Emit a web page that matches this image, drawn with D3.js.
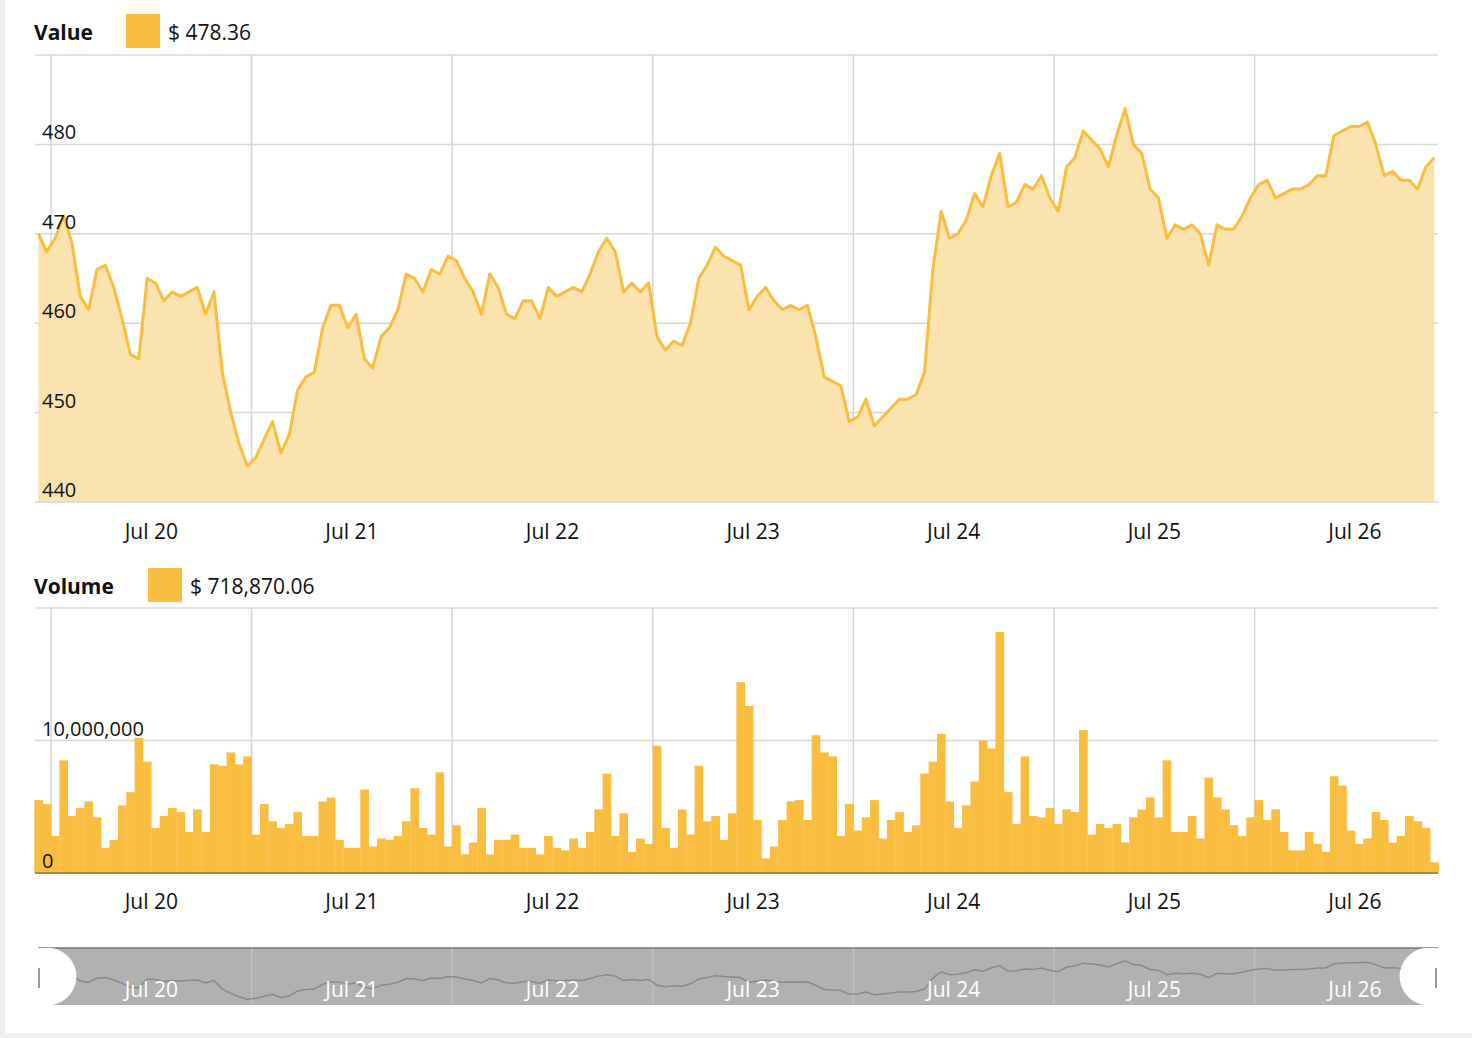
<!DOCTYPE html>
<html>
<head>
<meta charset="utf-8">
<script src="https://cdn.jsdelivr.net/npm/d3@7"></script>
<style>
  body { margin: 0; background: #efefef; font-family: "Open Sans", sans-serif; }
  #panel { position: absolute; left: 5px; top: 0; width: 1467px; height: 1033px; background: #fff; }
  svg { position: absolute; left: 0; top: 0; }
</style>
</head>
<body>
<div id="panel"></div>
<svg id="chart" width="1472" height="1038"></svg>
<script>
// hourly samples, first one at Jul 19 22:30
const startTime = new Date(2016, 6, 19, 22, 30);
const dayTicks = ["Jul 20", "Jul 21", "Jul 22", "Jul 23", "Jul 24", "Jul 25", "Jul 26"];
const valueTicks = [440, 450, 460, 470, 480];
const volumeTicks = [0, 10000000];

const prices = [
  470, 468, 469.5, 472, 469, 463, 461.5, 466, 466.5, 464, 460.5, 456.5, 456, 465, 464.5, 462.5,
  463.5, 463, 463.5, 464, 461, 463.5, 454.5, 450, 446.5, 444, 445, 447, 449, 445.5, 447.5, 452.5,
  454, 454.5, 459.5, 462, 462, 459.5, 461, 456, 455, 458.5, 459.5, 461.5, 465.5, 465, 463.5, 466,
  465.5, 467.5, 467, 465, 463.5, 461, 465.5, 464, 461, 460.5, 462.5, 462.5, 460.5, 464, 463, 463.5,
  464, 463.5, 465.5, 468, 469.5, 468, 463.5, 464.5, 463.5, 464.5, 458.5, 457, 458, 457.5, 460, 465,
  466.5, 468.5, 467.5, 467, 466.5, 461.5, 463, 464, 462.5, 461.5, 462, 461.5, 462, 458.5, 454, 453.5,
  453, 449, 449.5, 451.5, 448.5, 449.5, 450.5, 451.5, 451.5, 452, 454.5, 466, 472.5, 469.5, 470, 471.5,
  474.5, 473, 476.5, 479, 473, 473.5, 475.5, 475, 476.5, 474, 472.5, 477.5, 478.5, 481.5, 480.5, 479.5,
  477.5, 481, 484, 480, 479, 475, 474, 469.5, 471, 470.5, 471, 470, 466.5, 471, 470.5, 470.5,
  472, 474, 475.5, 476, 474, 474.5, 475, 475, 475.5, 476.5, 476.5, 481, 481.5, 482, 482, 482.5,
  480, 476.5, 477, 476, 476, 475, 477.5, 478.5
];

// volume in millions of dollars per hour
const volumesM = [
  5.5, 5.2, 2.8, 8.5, 4.3, 4.9, 5.4, 4.2, 1.9, 2.5, 5.1, 6.1, 10.2, 8.4, 3.4, 4.3,
  4.9, 4.6, 3.1, 4.8, 3.1, 8.2, 8.1, 9.1, 8.2, 8.8, 2.9, 5.2, 3.9, 3.4, 3.7, 4.6,
  2.8, 2.8, 5.4, 5.7, 2.5, 1.9, 1.9, 6.3, 2.0, 2.6, 2.5, 2.8, 3.9, 6.4, 3.4, 2.9,
  7.6, 2.0, 3.6, 1.4, 2.3, 4.9, 1.4, 2.5, 2.5,
  2.9, 1.9, 1.9, 1.4, 2.8, 1.9, 1.7, 2.6, 1.9, 3.1, 4.8, 7.5, 2.8, 4.5, 1.6, 2.6,
  2.2, 9.6, 3.4, 1.9, 4.8, 2.9, 8.1, 3.9, 4.3, 2.5, 4.5, 14.4, 12.6, 4.0, 1.1, 2.0,
  4.0, 5.4, 5.5, 4.0, 10.4, 9.1, 8.8, 2.8, 5.2, 3.2, 4.2, 5.5, 2.6, 4.0, 4.6, 3.1,
  3.6, 7.5, 8.4, 10.5, 5.4, 3.4, 5.1, 6.9, 10.0,
  9.4, 18.2, 6.1, 3.7, 8.8, 4.3, 4.2, 4.9, 3.7, 4.8, 4.6, 10.8, 2.9, 3.7, 3.4, 3.7,
  2.3, 4.2, 4.8, 5.7, 4.2, 8.5, 3.1, 3.1, 4.3, 2.6, 7.2, 5.7, 4.8, 3.6, 2.8, 4.2,
  5.5, 4.0, 4.8, 3.1, 1.7, 1.7, 3.1, 2.2, 1.6, 7.3, 6.6, 3.2, 2.2, 2.6, 4.6, 4.0,
  2.3, 2.8, 4.3, 3.9, 3.4, 0.8
];

const HOUR = 3600 * 1000;
const times = prices.map((_, i) => new Date(+startTime + i * HOUR));
const volumes = volumesM.map(v => v * 1e6);

const svg = d3.select("#chart");
const gold = "#f9bd3f";
const left = 35, right = 1438;

const x = d3.scaleTime()
  .domain([new Date(2016, 6, 20), new Date(2016, 6, 27)])
  .range([51, 51 + 7 * 200.6]);
const dayStarts = d3.range(7).map(d => new Date(2016, 6, 20 + d));
const dayMid = d => new Date(+d + 12 * HOUR);
const step = x(times[1]) - x(times[0]);

const yVal = d3.scaleLinear().domain([440, 490]).range([502, 55]);
const yVol = d3.scaleLinear().domain([0, 20e6]).range([873, 608]);

function grid(g, yScale, ticks, top, bottom) {
  g.selectAll(".hg").data(ticks).join("line")
    .attr("x1", left).attr("x2", right)
    .attr("y1", d => yScale(d)).attr("y2", d => yScale(d))
    .attr("stroke", "#d8d8d8").attr("stroke-width", 1.5);
  g.append("line").attr("x1", left).attr("x2", right).attr("y1", top).attr("y2", top)
    .attr("stroke", "#d8d8d8").attr("stroke-width", 1.5);
  g.selectAll(".vg").data(dayStarts).join("line")
    .attr("x1", d => x(d)).attr("x2", d => x(d))
    .attr("y1", top).attr("y2", bottom)
    .attr("stroke", "#d4d4d4").attr("stroke-width", 1.5);
}

function legend(label, sx, value, y) {
  svg.append("text").attr("x", 34).attr("y", y + 8).attr("font-size", 21)
    .attr("font-weight", "bold").attr("fill", "#111").text(label);
  svg.append("rect").attr("x", sx).attr("y", y - 18).attr("width", 34).attr("height", 34).attr("fill", gold);
  svg.append("text").attr("x", sx + 42).attr("y", y + 8).attr("font-size", 21)
    .attr("fill", "#111").text(value);
}

function dayLabels(y, color) {
  svg.append("g").selectAll("text").data(dayStarts).join("text")
    .attr("x", d => x(dayMid(d))).attr("y", y)
    .attr("text-anchor", "middle").attr("font-size", 21).attr("fill", color)
    .text((d, i) => dayTicks[i]);
}

// ---- Value panel ----
legend("Value", 126, "$ 478.36", 32);
const gv = svg.append("g");
grid(gv, yVal, valueTicks.slice(1), 55, 502);

gv.append("path").datum(prices)
  .attr("fill", "#fbe3b0")
  .attr("d", d3.area().x((d, i) => x(times[i])).y0(yVal(440)).y1(d => yVal(d)));
gv.append("path").datum(prices)
  .attr("fill", "none").attr("stroke", gold).attr("stroke-width", 3).attr("stroke-linejoin", "round")
  .attr("d", d3.line().x((d, i) => x(times[i])).y(d => yVal(d)));
gv.append("line").attr("x1", left).attr("x2", right).attr("y1", 502).attr("y2", 502)
  .attr("stroke", "#d8d8d8").attr("stroke-width", 1.5);

gv.selectAll(".yl").data(valueTicks).join("text")
  .attr("x", 42).attr("y", d => yVal(d) - 5).attr("font-size", 20).attr("fill", "#111")
  .text(d => d);
dayLabels(539, "#111");

// ---- Volume panel ----
legend("Volume", 148, "$ 718,870.06", 586);
const gb = svg.append("g");
grid(gb, yVol, [10e6], 608, 873);

gb.selectAll(".bar").data(volumes).join("rect")
  .attr("x", (d, i) => x(times[i]) - step / 2)
  .attr("width", step + 0.3)
  .attr("y", d => yVol(d))
  .attr("height", d => yVol(0) - yVol(d))
  .attr("fill", gold);
gb.append("line").attr("x1", left).attr("x2", right).attr("y1", 873).attr("y2", 873)
  .attr("stroke", "#a88a3a").attr("stroke-width", 2);
gb.selectAll(".yl").data(volumeTicks).join("text")
  .attr("x", 42).attr("y", d => yVol(d) - 5).attr("font-size", 20).attr("fill", "#111")
  .text(d => d3.format(",")(d));
dayLabels(909, "#111");

// ---- Navigator ----
const navTop = 948, navBottom = 1005;
const yNav = d3.scaleLinear().domain([440, 490]).range([1003, 955]);
const gn = svg.append("g");
gn.append("rect").attr("x", 38).attr("y", navTop).attr("width", 1400).attr("height", navBottom - navTop)
  .attr("fill", "#b1b1b1");
gn.append("line").attr("x1", 38).attr("x2", 1438).attr("y1", navTop).attr("y2", navTop)
  .attr("stroke", "#777").attr("stroke-width", 1.5);
gn.selectAll(".ng").data(dayStarts).join("line")
  .attr("x1", d => x(d)).attr("x2", d => x(d)).attr("y1", navTop).attr("y2", navBottom)
  .attr("stroke", "#c4c4c4").attr("stroke-width", 1);
gn.append("path").datum(prices)
  .attr("fill", "none").attr("stroke", "#8a8a8a").attr("stroke-width", 1.5)
  .attr("d", d3.line().x((d, i) => x(times[i])).y(d => yNav(d)));
dayLabels(997, "#fff");

// handles
gn.append("path").attr("fill", "#fff")
  .attr("d", `M38,${navTop} L38,${navBottom} L52,${navBottom} A30,29 0 0 0 52,${navTop} Z`);
gn.append("path").attr("fill", "#fff")
  .attr("d", `M1438,${navTop} L1438,${navBottom} L1424,${navBottom} A30,29 0 0 1 1424,${navTop} Z`);
gn.append("line").attr("x1", 39).attr("x2", 39).attr("y1", 968).attr("y2", 988).attr("stroke", "#999").attr("stroke-width", 2);
gn.append("line").attr("x1", 1436).attr("x2", 1436).attr("y1", 968).attr("y2", 988).attr("stroke", "#999").attr("stroke-width", 2);
</script>
</body>
</html>
